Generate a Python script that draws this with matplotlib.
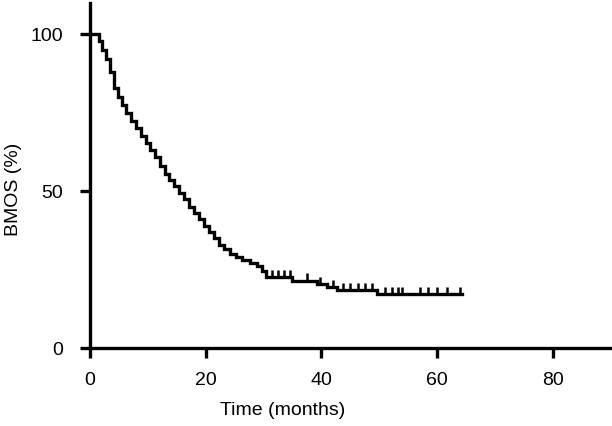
import numpy as np
import matplotlib.pyplot as plt

plt.rcParams['font.family'] = ['Liberation Sans', 'DejaVu Sans']

# Kaplan-Meier estimate (months, % surviving)
event_times = [0, 1.5, 2.1, 2.8, 3.4, 4.1, 4.8, 5.5, 6.3, 7.1, 8.0, 8.8, 9.7,
               10.4, 11.2, 12.1, 12.9, 13.7, 14.5, 15.4, 16.2, 17.1, 18.0,
               18.8, 19.7, 20.6, 21.4, 22.3, 23.1, 24.2, 25.3, 26.3, 27.6,
               28.8, 29.8, 30.5, 34.9, 39.3, 41.0, 42.7, 49.6]
survival = [100, 98, 95, 92, 88, 83, 80, 77.5, 75, 72.5, 70, 67.5, 65.5,
            63, 61, 58, 55.5, 53.5, 51.5, 49.5, 47.5, 45, 43,
            41, 39, 37, 35, 33, 31.5, 30, 29, 28, 27,
            26, 24.5, 22.7, 21.5, 20.5, 19.5, 18.5, 17.2]
end_time = 64.3
censor_times = [31.5, 32.5, 33.6, 34.6, 37.5, 39.7, 42.0, 43.7, 45.0, 46.3,
                47.5, 48.7, 50.9, 52.2, 53.2, 54.0, 57.0, 58.4, 60.0, 61.7,
                63.9]

fig = plt.figure(figsize=(6.12, 4.26), dpi=100)
ax = fig.add_axes([0.147, 0.183, 0.853, 0.81])

t = np.array(event_times + [end_time])
s = np.array(survival + [survival[-1]])
ax.step(t, s, where='post', color='black', lw=2.4, solid_joinstyle='miter')

# censoring marks sit on the curve
idx = np.searchsorted(event_times, censor_times, side='right') - 1
cs = np.array(survival)[idx]
ax.plot(censor_times, cs + 1.0, ls='none', marker='|', ms=5.5, mew=1.8,
        color='black')

ax.set_xlim(0, 90.2)
ax.set_ylim(0, 110)
ax.set_xticks([0, 20, 40, 60, 80])
ax.set_yticks([0, 50, 100])
ax.spines['top'].set_visible(False)
ax.spines['right'].set_visible(False)
for side in ['left', 'bottom']:
    ax.spines[side].set_linewidth(2.4)
ax.tick_params(width=2.4, length=7.5, labelsize=14, colors='black')
ax.tick_params(axis='x', pad=10)
ax.tick_params(axis='y', pad=12)

ax.set_xlabel('Time (months)', fontsize=14)
ax.xaxis.set_label_coords(0.37, -0.155)
ax.set_ylabel('BMOS (%)', fontsize=14)
ax.yaxis.set_label_coords(-0.13, 0.46)

fig.savefig('out.png', dpi=100)
